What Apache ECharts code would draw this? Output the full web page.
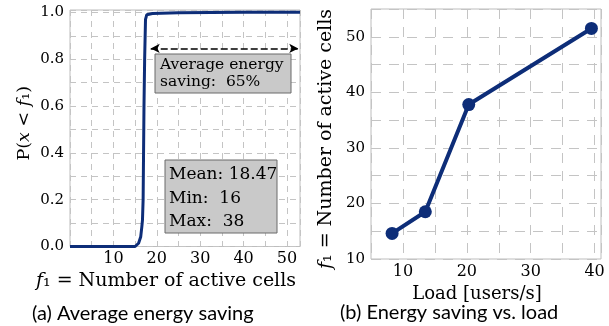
<!DOCTYPE html>
<html><head><meta charset="utf-8">
<script src="https://cdn.jsdelivr.net/npm/echarts@6/dist/echarts.min.js"></script>
<style>html,body{margin:0;padding:0;background:#fff;}#c{width:609px;height:326px;}</style>
</head><body><div id="c"></div>
<script>
// Left: CDF of number of active cells
var cdfX = [0, 15.0, 15.8, 16.3, 16.55, 16.7, 16.85, 16.95, 17.05, 17.2, 17.4, 17.7, 19, 25, 40, 53];
var cdfY = [0, 0, 0.014, 0.042, 0.084, 0.113, 0.2, 0.4, 0.6, 0.8, 0.97, 0.99, 0.995, 0.998, 1.0, 1.0];
var leftXTicks = [10, 20, 30, 40, 50];
var leftYTicks = [0.0, 0.2, 0.4, 0.6, 0.8, 1.0];
var savingArrow = [[18.6, 0.846], [52.6, 0.846]];
// Right: number of active cells vs load
var loadX = [8.3, 13.5, 20.3, 39.5];
var activeCells = [14.6, 18.5, 37.8, 51.5];
var rightXTicks = [10, 20, 30, 40];
var rightYTicks = [10, 20, 30, 40, 50];

var navy = '#0d2d78';
var serif = '"DejaVu Serif", "Liberation Serif", serif';
var sans = 'Lato, "Open Sans", sans-serif';
var gridCol = '#c4c4c4';

function near(v, arr) { for (var i = 0; i < arr.length; i++) if (Math.abs(v - arr[i]) < 1e-6) return true; return false; }
function rich(sz) {
  return {
    i: {fontFamily: serif, fontStyle: 'italic', fontSize: sz, color: '#000'},
    r: {fontFamily: serif, fontSize: sz, color: '#000'}
  };
}

var chart = echarts.init(document.getElementById('c'), null, {renderer: 'canvas'});
chart.setOption({
  animation: false,
  grid: [
    {left: 70, top: 10, width: 230, height: 236.5, show: true, borderColor: '#bdbdbd', borderWidth: 1},
    {left: 371, top: 9, width: 230, height: 250, show: true, borderColor: '#bdbdbd', borderWidth: 1}
  ],
  xAxis: [
    {gridIndex: 0, type: 'value', min: 0, max: 53, interval: 5,
     axisLine: {show: false}, axisTick: {show: false},
     axisLabel: {margin: 4, fontFamily: serif, fontSize: 16, color: '#000', showMaxLabel: false,
       formatter: function (v) { return near(v, leftXTicks) ? String(v) : ''; }},
     splitLine: {show: true, lineStyle: {color: gridCol, type: [6, 5], width: 1}},
     name: '{i|f}{r|₁ = Number of active cells}', nameLocation: 'middle', nameGap: 22,
     nameTextStyle: {rich: rich(19), padding: [0, 38, 0, 0]}},
    {gridIndex: 1, type: 'value', min: 5, max: 41, interval: 5,
     axisLine: {show: false}, axisTick: {show: false},
     axisLabel: {margin: 5, fontFamily: serif, fontSize: 16, color: '#000',
       formatter: function (v) { return near(v, rightXTicks) ? String(v) : ''; }},
     splitLine: {show: true, lineStyle: {color: gridCol, type: [10, 8], width: 1}},
     name: 'Load [users/s]', nameLocation: 'middle', nameGap: 22,
     nameTextStyle: {fontFamily: serif, fontSize: 18, color: '#000', padding: [0, 18, 0, 0]}}
  ],
  yAxis: [
    {gridIndex: 0, type: 'value', min: 0, max: 1.01, interval: 0.1,
     axisLine: {show: false}, axisTick: {show: false},
     axisLabel: {margin: 6, fontFamily: serif, fontSize: 15, color: '#000',
       formatter: function (v) { return near(v, leftYTicks) ? v.toFixed(1) : ''; }},
     splitLine: {show: true, lineStyle: {color: gridCol, type: [6, 5], width: 1}},
     name: '{r|P(}{i|x}{r| < }{i|f}{r|₁)}', nameLocation: 'middle', nameGap: 37,
     nameTextStyle: {rich: rich(17.5), padding: [0, 0, 0, 10]}},
    {gridIndex: 1, type: 'value', min: 10, max: 55, interval: 5,
     axisLine: {show: false}, axisTick: {show: false},
     axisLabel: {margin: 6, fontFamily: serif, fontSize: 15, color: '#000',
       formatter: function (v) { return near(v, rightYTicks) ? String(v) : ''; }},
     splitLine: {show: true, lineStyle: {color: gridCol, type: [10, 8], width: 1}},
     name: '{i|f}{r|₁ = Number of active cells}', nameLocation: 'middle', nameGap: 35,
     nameTextStyle: {rich: rich(19), padding: [0, 0, 0, -10]}}
  ],
  series: [
    {type: 'line', xAxisIndex: 0, yAxisIndex: 0, showSymbol: false, smooth: false,
     data: cdfX.map(function (x, i) { return [x, cdfY[i]]; }),
     lineStyle: {color: navy, width: 3}, itemStyle: {color: navy},
     markLine: {silent: true, symbol: ['arrow', 'arrow'], symbolSize: [7, 9],
       label: {show: false},
       lineStyle: {color: '#000', type: [7, 3], width: 1.5},
       data: [[{coord: savingArrow[0]}, {coord: savingArrow[1]}]]}},
    {type: 'line', xAxisIndex: 1, yAxisIndex: 1, symbol: 'circle', symbolSize: 13,
     data: loadX.map(function (x, i) { return [x, activeCells[i]]; }),
     lineStyle: {color: navy, width: 4}, itemStyle: {color: navy}}
  ],
  graphic: [
    {type: 'rect', shape: {x: 155, y: 54, width: 136, height: 39}, style: {fill: '#c9c9c9', stroke: '#6a6a6a', lineWidth: 1}, z: 10},
    {type: 'text', x: 160, y: 56, style: {text: 'Average energy\nsaving:  65%', font: '15.5px ' + serif, fill: '#000', lineHeight: 17.5}, z: 11},
    {type: 'rect', shape: {x: 165, y: 160, width: 112, height: 73}, style: {fill: '#c9c9c9', stroke: '#6a6a6a', lineWidth: 1}, z: 10},
    {type: 'text', x: 169, y: 163, style: {text: 'Mean: 18.47\nMin:  16\nMax:  38', font: '17px ' + serif, fill: '#000', lineHeight: 23.5}, z: 11},
    {type: 'text', x: 32, y: 314, style: {text: '(a) Average energy saving', font: '20px ' + sans, fill: '#000', verticalAlign: 'middle'}},
    {type: 'text', x: 340, y: 313, style: {text: '(b) Energy saving vs. load', font: '20px ' + sans, fill: '#000', verticalAlign: 'middle'}}
  ]
});
</script></body></html>
